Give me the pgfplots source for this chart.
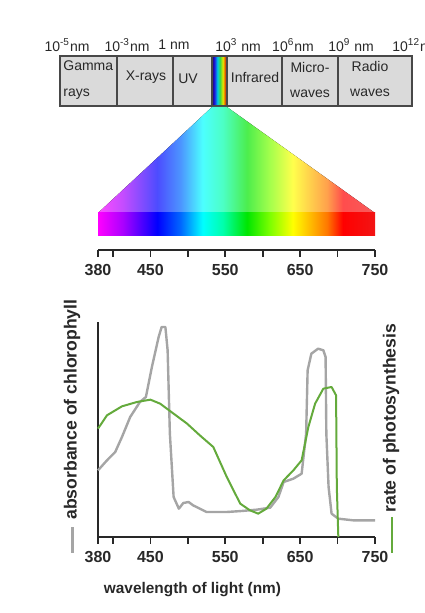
\documentclass[border=0pt]{standalone}
\usepackage{fontspec}
\setmainfont{Liberation Sans}
\usepackage{pgfplots}
\pgfplotsset{compat=1.18}

\definecolor{absgray}{RGB}{165,165,165}
\definecolor{psgreen}{RGB}{100,170,60}
\definecolor{boxgray}{RGB}{218,218,218}
\definecolor{ink}{RGB}{40,40,40}

% visible spectrum, 380-750 nm mapped onto 25bp-75bp
\pgfdeclarehorizontalshading{spec}{100bp}{rgb(0bp)=(1,0,1); rgb(25bp)=(1,0,1);
  rgb(29.45bp)=(0.67,0,1); rgb(35.7bp)=(0,0,1); rgb(39.85bp)=(0,0.4,1);
  rgb(43.9bp)=(0,1,1); rgb(47.55bp)=(0,1,0.67); rgb(51.9bp)=(0,0.9,0);
  rgb(56.1bp)=(0.5,1,0); rgb(60.15bp)=(1,1,0); rgb(63.8bp)=(1,0.69,0);
  rgb(66.35bp)=(1,0.47,0); rgb(69.2bp)=(1,0,0); rgb(75bp)=(0.95,0.08,0.08);
  rgb(100bp)=(0.95,0.08,0.08)}
\pgfdeclarehorizontalshading{speclight}{100bp}{rgb(0bp)=(1,0.3,1); rgb(25bp)=(1,0.3,1);
  rgb(29.45bp)=(0.77,0.3,1); rgb(35.7bp)=(0.3,0.3,1); rgb(39.85bp)=(0.3,0.58,1);
  rgb(43.9bp)=(0.3,1,1); rgb(47.55bp)=(0.3,1,0.77); rgb(51.9bp)=(0.3,0.93,0.3);
  rgb(56.1bp)=(0.65,1,0.3); rgb(60.15bp)=(1,1,0.3); rgb(63.8bp)=(1,0.78,0.3);
  rgb(66.35bp)=(1,0.63,0.3); rgb(69.2bp)=(1,0.3,0.3); rgb(75bp)=(0.97,0.36,0.36);
  rgb(100bp)=(0.97,0.36,0.36)}
\pgfdeclarehorizontalshading{strip}{100bp}{rgb(0bp)=(0.15,0,0.4); rgb(25bp)=(0.15,0,0.4);
  rgb(33bp)=(0.1,0.1,0.9); rgb(43bp)=(0,0.8,0.9); rgb(52bp)=(0.25,0.85,0.25);
  rgb(61bp)=(0.9,0.9,0); rgb(67bp)=(0.9,0.45,0); rgb(72bp)=(0.8,0,0);
  rgb(75bp)=(0.55,0,0); rgb(100bp)=(0.55,0,0)}

\pgfplotsset{
  lab/.style={font=\fontsize{8}{9}\selectfont\bfseries, text=ink},
  wl axis/.style={
    anchor=south west, scale only axis, width=138.5pt,
    xmin=380, xmax=750, ymin=0,
    axis x line*=bottom, ytick=\empty,
    axis line style={ink, line width=0.9pt},
    xtick={380,400,450,500,550,600,650,700,750},
    xticklabels={380,,450,,550,,650,,750},
    tick align=outside, major tick length=3.5pt,
    tick style={ink, line width=0.8pt},
    xticklabel style={lab},
    clip=false,
  },
}

\begin{document}
\begin{tikzpicture}
\path[use as bounding box] (0,0) rectangle (212pt,306.5pt);
\clip (0,0) rectangle (212pt,306.5pt);

% wavelength labels of the full spectrum
\begin{scope}[every node/.style={font=\fontsize{7}{8}\selectfont, text=ink, inner sep=0pt}]
\node at (33.5pt,284pt) {10\textsuperscript{-5}nm};
\node at (63.5pt,284pt) {10\textsuperscript{-3}nm};
\node at (87pt,284pt) {1 nm};
\node at (119pt,284pt) {10\textsuperscript{3} nm};
\node at (146.5pt,284pt) {10\textsuperscript{6}nm};
\node at (175.5pt,284pt) {10\textsuperscript{9} nm};
\node[anchor=west] at (196pt,284pt) {10\textsuperscript{12}nm};
\end{scope}

% band boxes
\fill[boxgray] (30pt,253.5pt) rectangle (206pt,278.5pt);
\fill[shading=strip] (106pt,253.5pt) rectangle (113.5pt,278.5pt);
\draw[ink!85, line width=0.8pt] (30pt,253.5pt) rectangle (206pt,278.5pt);
\foreach \d in {58.5,86.5,106,113.5,141,169}
  \draw[ink!85, line width=0.8pt] (\d pt,253.5pt) -- (\d pt,278.5pt);
\begin{scope}[every node/.style={font=\fontsize{7}{8}\selectfont, text=ink, inner sep=0pt}]
\node[anchor=west] at (31.5pt,273.5pt) {Gamma};
\node[anchor=west] at (31.5pt,259.5pt) {rays};
\node at (73pt,268pt) {X-rays};
\node at (94pt,267pt) {UV};
\node at (127.5pt,267.5pt) {Infrared};
\node at (155pt,272.5pt) {Micro-};
\node at (155pt,259.5pt) {waves};
\node at (185pt,273pt) {Radio};
\node at (185pt,260pt) {waves};
\end{scope}

% visible spectrum, spread out, on its wavelength scale
\begin{axis}[wl axis, at={(49pt,181.5pt)}, height=71.5pt, ymax=143,
  axis y line=none]
\fill[shading=speclight] (axis cs:380,37) -- (axis cs:532.3,143)
  -- (axis cs:552.3,143) -- (axis cs:750,37) -- cycle;
\fill[shading=spec] (axis cs:380,14) rectangle (axis cs:750,37);
\end{axis}

% absorbance and photosynthesis
\begin{axis}[wl axis, at={(49pt,38pt)}, height=107.5pt, ymax=645,
  axis y line*=left]
\addplot[absgray, line width=1.2pt, line join=round] coordinates {
  (380,200) (392,230) (403,255) (412,300) (423,360) (436,405) (444,420)
  (452,510) (461,600) (465,630) (470,630) (473,560) (476,310) (481,120)
  (488,85) (494,102) (501,105) (507,95) (525,75) (552,75) (572,78)
  (592,82) (610,88) (621,120) (628,165) (641,175) (652,190) (658,310)
  (660,500) (665,550) (674,565) (681,560) (684,540) (685,310) (688,150)
  (692,70) (701,55) (721,50) (750,50)
};
\addplot[psgreen, line width=1pt, line join=round] coordinates {
  (380,325) (392,365) (412,392) (432,405) (450,412) (463,400) (481,370)
  (499,340) (516,305) (534,270) (552,180) (570,100) (583,80) (594,70)
  (605,85) (617,120) (628,170) (641,200) (652,230) (661,330) (670,400)
  (681,445) (692,450) (698,425) (699,150) (701,0)
};
\end{axis}

\node[font=\fontsize{7.7}{9}\selectfont\bfseries, text=ink] at (96.25pt,11.5pt)
  {wavelength of light (nm)};
\node[rotate=90, anchor=west, inner sep=0pt, font=\fontsize{8.8}{10}\selectfont\bfseries, text=ink]
  at (36pt,30pt) {{\color{absgray}\rule[0.3ex]{13pt}{1.2pt}}\hspace{3.5pt}absorbance of chlorophyll};
\node[rotate=90, anchor=west, inner sep=0pt, font=\fontsize{8.8}{10}\selectfont\bfseries, text=ink]
  at (195.5pt,30pt) {{\color{psgreen}\rule[0.3ex]{18pt}{1pt}}\hspace{2pt}rate of photosynthesis};
\end{tikzpicture}
\end{document}
